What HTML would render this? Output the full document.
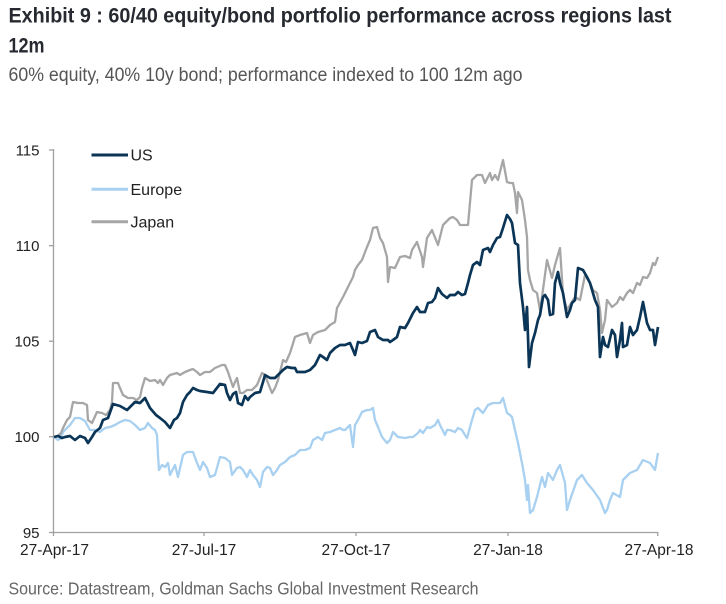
<!DOCTYPE html>
<html>
<head>
<meta charset="utf-8">
<style>
html,body{margin:0;padding:0;background:#fff;}
svg{display:block;}
text{font-family:"Liberation Sans",Arial,sans-serif;}
</style>
</head>
<body>
<svg width="726" height="604" viewBox="0 0 726 604" xmlns="http://www.w3.org/2000/svg">
<rect width="726" height="604" fill="#fff"/>
<!-- Title -->
<text x="8.5" y="22.5" font-size="21" font-weight="bold" fill="#262a30" textLength="663" lengthAdjust="spacingAndGlyphs">Exhibit 9 : 60/40 equity/bond portfolio performance across regions last</text>
<text x="8.5" y="52.5" font-size="21" font-weight="bold" fill="#262a30" textLength="36" lengthAdjust="spacingAndGlyphs">12m</text>
<text x="8.5" y="81" font-size="19" fill="#555" textLength="514" lengthAdjust="spacingAndGlyphs">60% equity, 40% 10y bond; performance indexed to 100 12m ago</text>

<!-- Axes -->
<g stroke="#a0a0a0" stroke-width="1.3" fill="none">
<line x1="53.5" y1="149" x2="53.5" y2="533"/>
<line x1="53" y1="532.5" x2="658.5" y2="532.5"/>
<line x1="49" y1="150" x2="53.5" y2="150"/>
<line x1="49" y1="245.7" x2="53.5" y2="245.7"/>
<line x1="49" y1="341.2" x2="53.5" y2="341.2"/>
<line x1="49" y1="436.7" x2="53.5" y2="436.7"/>
<line x1="49" y1="532.5" x2="53.5" y2="532.5"/>
<line x1="53.5" y1="532.5" x2="53.5" y2="536"/>
<line x1="204" y1="532.5" x2="204" y2="536"/>
<line x1="356" y1="532.5" x2="356" y2="536"/>
<line x1="508" y1="532.5" x2="508" y2="536"/>
<line x1="657.7" y1="532.5" x2="657.7" y2="536"/>
</g>
<g font-size="15" fill="#222" text-anchor="end">
<text x="39.5" y="155.3">115</text>
<text x="39.5" y="251">110</text>
<text x="39.5" y="346.5">105</text>
<text x="39.5" y="442">100</text>
<text x="39.5" y="537.8">95</text>
</g>
<g font-size="15.5" fill="#222" text-anchor="middle">
<text x="54.5" y="555">27-Apr-17</text>
<text x="204" y="555">27-Jul-17</text>
<text x="356" y="555">27-Oct-17</text>
<text x="508" y="555">27-Jan-18</text>
<text x="659" y="555">27-Apr-18</text>
</g>

<!-- Legend -->
<line x1="91.5" y1="155" x2="128" y2="155" stroke="#0b3557" stroke-width="3"/>
<text x="130.5" y="160.7" font-size="16" fill="#222">US</text>
<line x1="91.5" y1="189.3" x2="128" y2="189.3" stroke="#a8d0f0" stroke-width="3"/>
<text x="130.5" y="195" font-size="16" fill="#222">Europe</text>
<line x1="91.5" y1="221.7" x2="128" y2="221.7" stroke="#a6a6a6" stroke-width="3"/>
<text x="130.5" y="227.4" font-size="16" fill="#222">Japan</text>

<!-- Europe -->
<polyline fill="none" stroke="#a8d0f0" stroke-width="2.3" stroke-linejoin="round" points="54,437 58,440 61,438 63,432 67,428 70,425 75,418 80,418 85,421 90,430 95,430 100,432 105,428 110,427 115,425 120,422 125,420 130,421 135,425 140,430 145,428 148,423 152,428 155,430 157,435 158,455 159,470 162,465 165,467 168,463 170,475 175,465 178,477 183,455 187,452 193,452 197,463 200,470 203,462 207,468 210,477 215,475 220,457 225,458 230,462 232,475 237,468 240,467 243,470 247,477 250,470 253,475 257,480 260,487 263,472 267,467 270,468 273,475 277,470 280,465 285,462 290,457 295,455 300,450 305,450 310,448 313,440 318,437 322,440 325,433 330,432 335,430 340,428 343,430 345,430 350,425 353,447 355,425 358,420 362,412 367,410 370,410 373,408 375,420 378,427 382,437 387,443 390,440 393,432 398,437 405,438 410,437 413,437 418,433 420,430 423,433 427,427 430,428 435,425 438,420 440,425 445,435 447,430 450,430 455,432 458,428 462,430 465,435 467,438 472,420 475,410 478,408 483,413 488,405 493,403 500,403 503,398 507,413 510,415 512,417 515,430 518,443 522,463 525,480 527,500 528,485 530,513 533,510 537,497 542,477 545,487 548,473 553,480 557,470 560,465 565,483 567,510 570,500 577,480 582,475 587,483 593,490 600,500 605,513 607,510 610,500 613,493 620,497 623,480 630,473 637,470 643,460 650,463 655,470 658,453"/>

<!-- Japan -->
<polyline fill="none" stroke="#a6a6a6" stroke-width="2.3" stroke-linejoin="round" points="54,437 58,436 61,433 63,428 67,420 70,417 73,402 78,403 83,403 87,405 88,420 92,423 97,412 102,413 106,415 110,410 112,402 113,383 118,383 120,388 123,395 128,398 133,398 137,400 140,397 142,388 145,378 150,381 155,380 158,383 160,380 163,385 167,378 170,375 177,373 180,375 185,372 190,370 193,369 197,372 200,375 205,372 210,372 215,368 222,365 225,365 228,372 230,378 233,387 235,382 237,378 240,393 243,393 247,390 252,390 257,385 262,373 265,375 268,383 272,393 275,388 278,380 283,360 286,362 290,353 295,337 300,335 307,333 310,343 313,335 318,332 325,330 330,325 335,322 337,308 343,297 350,283 353,277 355,270 358,265 362,260 367,247 370,240 373,228 377,227 380,238 383,243 387,257 388,282 390,267 395,268 400,257 405,256 410,258 412,250 417,242 422,257 423,267 427,238 432,230 438,245 443,225 450,218 453,217 457,220 460,225 468,225 472,180 477,175 482,175 485,183 490,173 492,180 495,175 498,180 503,160 507,182 510,183 513,183 515,193 517,213 518,192 522,200 525,220 527,237 528,270 530,280 533,290 537,293 540,310 542,297 547,260 552,278 555,265 560,248 563,295 567,310 570,305 575,297 580,300 585,275 590,283 593,290 597,293 600,310 602,333 605,320 607,300 612,307 617,303 620,297 623,300 627,293 630,290 633,293 637,283 640,285 643,277 647,278 650,273 653,263 655,265 658,257"/>

<!-- US -->
<polyline fill="none" stroke="#0b3557" stroke-width="2.7" stroke-linejoin="round" points="54,437 58,436 62,438 65,437 70,436 75,440 80,436 85,438 88,443 92,437 95,432 100,428 103,420 108,418 113,404 120,406 127,410 135,402 140,403 145,398 150,408 156,415 160,418 165,422 170,428 174,420 177,418 180,413 183,402 187,395 190,392 193,388 197,390 200,391 207,392 213,393 220,384 225,385 227,393 230,400 233,394 236,392 238,403 242,405 245,396 248,400 250,397 255,393 260,392 263,382 265,375 270,378 275,378 280,373 283,370 287,367 292,368 295,368 297,372 300,372 305,372 310,370 315,365 320,355 323,357 327,360 330,353 335,348 340,345 345,345 350,343 353,350 355,355 358,342 362,343 367,341 370,332 375,330 378,337 383,340 388,340 390,342 393,340 397,337 400,327 405,328 408,323 413,313 417,307 420,312 425,312 428,303 432,302 435,298 438,288 442,294 447,298 450,295 455,295 458,292 462,295 465,294 468,283 470,275 473,265 477,262 480,265 483,250 488,248 490,252 493,245 497,238 500,237 503,228 507,215 510,219 512,223 515,243 518,245 520,283 523,307 525,330 527,307 529,367 532,343 535,333 538,320 540,315 543,297 545,295 548,300 550,315 553,314 555,283 558,272 560,283 563,293 565,305 567,317 570,310 572,303 575,300 578,268 583,270 587,277 590,283 595,300 598,307 600,357 603,337 605,345 608,347 612,330 615,335 617,357 620,340 622,323 623,347 627,345 630,327 633,335 637,330 640,317 643,302 647,323 650,330 653,330 655,345 658,327"/>

<!-- Source -->
<text x="8.5" y="594.5" font-size="17.5" fill="#666" textLength="470" lengthAdjust="spacingAndGlyphs">Source: Datastream, Goldman Sachs Global Investment Research</text>
</svg>
</body>
</html>
